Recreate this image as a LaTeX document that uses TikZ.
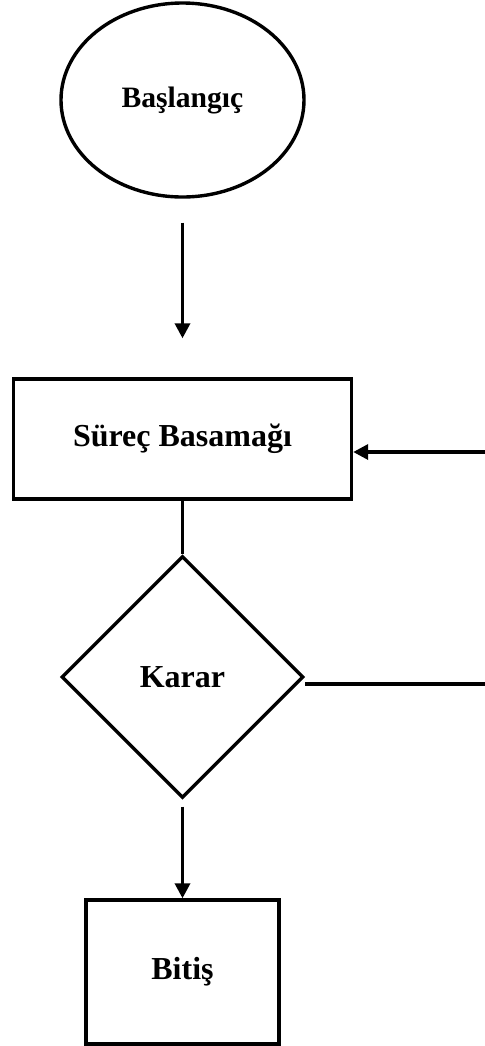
\documentclass[tikz,border=0pt]{standalone}
\usepackage{fontspec}
\setmainfont{Liberation Serif}
\usetikzlibrary{shapes.geometric,arrows.meta}
\begin{document}
\begin{tikzpicture}[x=0.5pt,y=-0.5pt,
  shapebox/.style={draw=black,line width=1.7pt,fill=white,inner sep=0pt,
    font=\fontsize{16pt}{18pt}\selectfont\bfseries},
  startshape/.style={shapebox,ellipse,minimum width=121.5pt,minimum height=97pt,
    font=\fontsize{14.8pt}{17pt}\selectfont\bfseries},
  procshape/.style={shapebox,rectangle,minimum width=169pt,minimum height=60pt},
  decshape/.style={shapebox,diamond,minimum width=121pt,minimum height=121pt},
  endshape/.style={shapebox,rectangle,minimum width=96.5pt,minimum height=72pt},
  link/.style={line width=1.7pt,draw=black},
  arrowlink/.style={link,-{Triangle[length=7.5pt,width=7.5pt]}}]
  \useasboundingbox (0,0) rectangle (485,1046);

  % flowchart shapes
  \node[startshape] (start) at (182.5,100) {\raisebox{1.5pt}{Başlangıç}};
  \node[procshape] (proc) at (182.5,439) {\raisebox{1pt}{Süreç Basamağı}};
  \node[decshape] (dec) at (182.5,677) {Karar};
  \node[endshape] (fin) at (182.5,972) {Bitiş};

  % free ends at the right margin
  \coordinate (loopin) at (485,452);
  \coordinate (loopout) at (485,684);

  % connectors
  \draw[arrowlink] ([yshift=-12pt]start.south) -- ([yshift=19.5pt]proc.north);
  \draw[link] (proc.south) -- (dec.north);
  \draw[arrowlink] ([yshift=-3.5pt]dec.south) -- (fin.north);
  \draw[link] (dec.east |- loopout) -- (loopout);
  \draw[arrowlink] (loopin) -- (proc.east |- loopin);
\end{tikzpicture}
\end{document}
